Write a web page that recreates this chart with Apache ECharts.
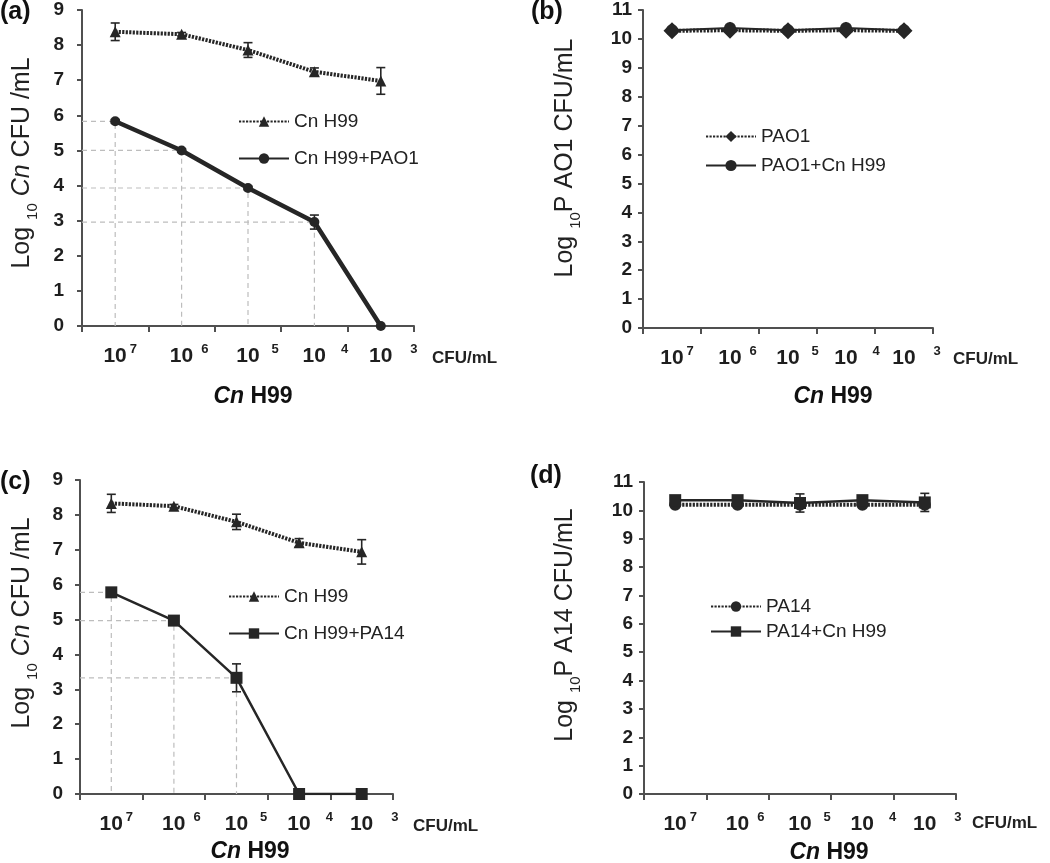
<!DOCTYPE html>
<html>
<head>
<meta charset="utf-8">
<script src="https://cdn.jsdelivr.net/npm/echarts@6/dist/echarts.min.js"></script>
<style>
html,body{margin:0;padding:0;background:#fff;}
#chart{width:1050px;height:863px;}
</style>
</head>
<body>
<div id="chart"></div>
<script>
// ---- data ----
const categories = ['10^7', '10^6', '10^5', '10^4', '10^3'];
const yTicksA = [0, 9];
const yTicksB = [0, 11];

// (a)
const cnH99_a = [8.38, 8.31, 7.86, 7.24, 6.98];
const cnH99_a_err = [0.25, 0.05, 0.21, 0.11, 0.38];
const cnH99PAO1 = [5.83, 5.0, 3.93, 2.96, 0];
const cnH99PAO1_err = [0.05, 0.04, 0.05, 0.2, 0];
// (b)
const pao1 = [10.28, 10.3, 10.28, 10.3, 10.28];
const pao1CnH99 = [10.3, 10.38, 10.3, 10.38, 10.3];
// (c)
const cnH99_c = [8.33, 8.25, 7.8, 7.2, 6.94];
const cnH99_c_err = [0.26, 0.05, 0.22, 0.12, 0.35];
const cnH99PA14 = [5.78, 4.97, 3.33, 0, 0];
const cnH99PA14_err = [0.06, 0.06, 0.4, 0, 0];
// (d)
const pa14 = [10.2, 10.2, 10.2, 10.2, 10.2];
const pa14CnH99 = [10.36, 10.36, 10.26, 10.36, 10.28];
const pa14CnH99_err = [0.12, 0.1, 0.32, 0.1, 0.32];

// ---- styling ----
const FONT = 'Liberation Sans, Arial, Helvetica, sans-serif';
const INK = '#262626';
const AXIS = '#505050';
const supGaps = [3, 8, 12, 15, 18];
const supW = 7;

const richX = {
  b: {fontSize: 21, fontWeight: 'bold', fontFamily: FONT, color: '#1e1e1e', lineHeight: 24, verticalAlign: 'bottom'},
  s: {fontSize: 13, fontWeight: 'bold', fontFamily: FONT, color: '#1e1e1e', lineHeight: 12, verticalAlign: 'top'}
};
supGaps.forEach((g, i) => {
  richX['p' + i] = {width: g + supW, height: 10};
  richX['g' + i] = {width: g, height: 10};
});

function xAxisCfg(gi) {
  return {
    type: 'category', gridIndex: gi, data: categories, boundaryGap: true,
    axisLine: {lineStyle: {color: AXIS, width: 2}},
    axisTick: {show: true, length: 6, alignWithLabel: false, interval: 0, lineStyle: {color: AXIS, width: 2}},
    axisLabel: {
      interval: 0, margin: 17,
      formatter: (v, idx) => '{p' + idx + '|}{b|10}{g' + idx + '|}{s|' + v.split('^')[1] + '}',
      rich: richX
    },
    splitLine: {show: false}
  };
}
function yAxisCfg(gi, ticks, margin) {
  return {
    type: 'value', gridIndex: gi, min: ticks[0], max: ticks[1], interval: 1,
    axisLine: {show: true, lineStyle: {color: AXIS, width: 2}},
    axisTick: {show: true, length: 5, lineStyle: {color: AXIS, width: 2}},
    axisLabel: {fontSize: 19, fontWeight: 'bold', fontFamily: FONT, color: '#1e1e1e', margin: margin},
    splitLine: {show: false}
  };
}

function lineSeries(name, data, gi, symbol, size, dotted, width) {
  return {
    name: name, type: 'line', xAxisIndex: gi, yAxisIndex: gi, data: data,
    symbol: symbol, symbolSize: size, z: 5,
    lineStyle: {color: INK, width: width, type: dotted ? [2.2, 1.3] : 'solid', cap: 'butt'},
    itemStyle: {color: INK, borderWidth: 0},
    emphasis: {disabled: true}
  };
}
function errSeries(values, errs, gi) {
  return {
    type: 'custom', xAxisIndex: gi, yAxisIndex: gi, z: 4,
    data: values.map((v, i) => [i, v, errs[i]]),
    encode: {x: 0, y: 1},
    renderItem: function (params, api) {
      const i = api.value(0), v = api.value(1), e = api.value(2);
      if (!e) return null;
      const hi = api.coord([i, v + e]);
      const lo = api.coord([i, v - e]);
      const cw = 4.5;
      const st = {stroke: INK, lineWidth: 1.6};
      return {type: 'group', children: [
        {type: 'line', shape: {x1: hi[0], y1: hi[1], x2: lo[0], y2: lo[1]}, style: st},
        {type: 'line', shape: {x1: hi[0] - cw, y1: hi[1], x2: hi[0] + cw, y2: hi[1]}, style: st},
        {type: 'line', shape: {x1: lo[0] - cw, y1: lo[1], x2: lo[0] + cw, y2: lo[1]}, style: st}
      ]};
    }
  };
}
function guideSeries(values, idxs, gi) {
  return {
    type: 'custom', xAxisIndex: gi, yAxisIndex: gi, z: 1, silent: true,
    data: idxs.map(i => [i, values[i]]),
    encode: {x: 0, y: 1},
    renderItem: function (params, api) {
      const i = api.value(0), v = api.value(1);
      const p = api.coord([i, v]);
      const o = api.coord([i, 0]);
      const left = params.coordSys.x;
      return {type: 'polyline', shape: {points: [[left, p[1]], [p[0], p[1]], [p[0], o[1]]]},
        style: {stroke: '#bdbdbd', lineWidth: 1.2, lineDash: [5, 4], fill: null}};
    }
  };
}
function legendCfg(names, left, top, gap, ih) {
  return {
    orient: 'vertical', left: left, top: top, itemWidth: 50, itemHeight: ih, itemGap: gap,
    data: names, selectedMode: false,
    textStyle: {fontSize: 19, fontFamily: FONT, color: '#222', padding: [0, 0, 0, 0]},
    itemStyle: {borderWidth: 0}
  };
}

const yNameRich = {
  n: {fontSize: 25, fontFamily: FONT, fill: '#222', lineHeight: 30, verticalAlign: 'top'},
  i: {fontSize: 25, fontFamily: FONT, fontStyle: 'italic', fill: '#222', lineHeight: 30, verticalAlign: 'top'},
  sub: {fontSize: 15, fontFamily: FONT, fill: '#222', lineHeight: 17, verticalAlign: 'bottom'}
};
function yName(text, x, y) {
  return {type: 'text', x: x, y: y, rotation: Math.PI / 2,
    style: {text: text, align: 'center', verticalAlign: 'middle', rich: yNameRich}};
}
const titleRich = {
  i: {fontSize: 23, fontWeight: 'bold', fontStyle: 'italic', fontFamily: FONT, fill: '#111'},
  b: {fontSize: 23, fontWeight: 'bold', fontFamily: FONT, fill: '#111'}
};
function xTitle(x, y) {
  return {type: 'text', x: x, y: y,
    style: {text: '{i|Cn}{b| H99}', align: 'center', verticalAlign: 'middle', rich: titleRich}};
}
function unitText(x, y) {
  return {type: 'text', x: x, y: y,
    style: {text: 'CFU/mL', align: 'left', verticalAlign: 'middle', fontSize: 17, fontWeight: 'bold', fontFamily: FONT, fill: '#222'}};
}
function panelTag(t, x, y) {
  return {type: 'text', x: x, y: y,
    style: {text: t, align: 'left', verticalAlign: 'top', fontSize: 25, fontWeight: 'bold', fontFamily: FONT, fill: '#111'}};
}

const option = {
  backgroundColor: '#fff',
  animation: false,
  grid: [
    {left: 82, top: 10, width: 332, height: 316, outerBoundsMode: 'none', containLabel: false},
    {left: 643, top: 10, width: 290, height: 318, outerBoundsMode: 'none', containLabel: false},
    {left: 80, top: 480, width: 313, height: 314, outerBoundsMode: 'none', containLabel: false},
    {left: 644, top: 482, width: 312, height: 312, outerBoundsMode: 'none', containLabel: false}
  ],
  xAxis: [xAxisCfg(0), xAxisCfg(1), xAxisCfg(2), xAxisCfg(3)],
  yAxis: [yAxisCfg(0, yTicksA, 18), yAxisCfg(1, yTicksB, 11), yAxisCfg(2, yTicksA, 17), yAxisCfg(3, yTicksB, 11)],
  legend: [
    legendCfg(['Cn H99', 'Cn H99+PAO1'], 233, 107, 18, 13),
    legendCfg(['PAO1', 'PAO1+Cn H99'], 700, 122, 10, 14),
    legendCfg(['Cn H99', 'Cn H99+PA14'], 223, 582, 18, 13),
    legendCfg(['PA14', 'PA14+Cn H99'], 705, 592, 6, 13)
  ],
  series: [
    guideSeries(cnH99PAO1, [0, 1, 2, 3], 0),
    lineSeries('Cn H99', cnH99_a, 0, 'triangle', 11, true, 4),
    lineSeries('Cn H99+PAO1', cnH99PAO1, 0, 'circle', 10, false, 4.5),
    errSeries(cnH99_a, cnH99_a_err, 0),
    errSeries(cnH99PAO1, cnH99PAO1_err, 0),

    lineSeries('PAO1', pao1, 1, 'diamond', 17, true, 4),
    lineSeries('PAO1+Cn H99', pao1CnH99, 1, 'circle', 12, false, 2),

    guideSeries(cnH99PA14, [0, 1, 2], 2),
    lineSeries('Cn H99', cnH99_c, 2, 'triangle', 11, true, 4),
    lineSeries('Cn H99+PA14', cnH99PA14, 2, 'rect', 12, false, 2.5),
    errSeries(cnH99_c, cnH99_c_err, 2),
    errSeries(cnH99PA14, cnH99PA14_err, 2),

    lineSeries('PA14', pa14, 3, 'circle', 12, true, 4),
    lineSeries('PA14+Cn H99', pa14CnH99, 3, 'rect', 12, false, 2.5),
    errSeries(pa14CnH99, pa14CnH99_err, 3)
  ],
  graphic: [
    panelTag('(a)', 0, 0), panelTag('(b)', 531, 0), panelTag('(c)', 0, 470), panelTag('(d)', 530, 464),
    yName('{n|Log }{sub|10}{n| }{i|Cn}{n| CFU /mL}', 25, 163),
    yName('{n|Log }{sub|10}{n|P AO1 CFU/mL}', 568, 158),
    yName('{n|Log }{sub|10}{n| }{i|Cn}{n| CFU /mL}', 25, 623),
    yName('{n|Log }{sub|10}{n|P A14 CFU/mL}', 568, 625),
    xTitle(253, 397), xTitle(833, 397), xTitle(250, 852), xTitle(829, 853),
    unitText(432, 358), unitText(953, 359), unitText(413, 826), unitText(972, 823)
  ]
};

const chart = echarts.init(document.getElementById('chart'), null, {renderer: 'canvas'});
chart.setOption(option);
</script>
</body>
</html>
